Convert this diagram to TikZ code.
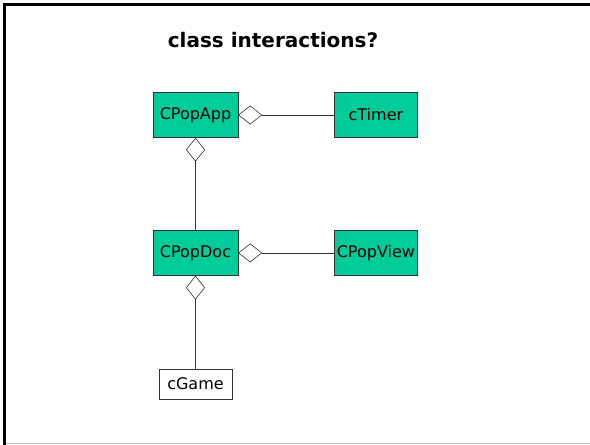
\documentclass[tikz,border=0pt]{standalone}
\usepackage{fontspec}
\setmainfont{DejaVu Sans}
\usetikzlibrary{arrows.meta, positioning}
\definecolor{popgreen}{RGB}{0, 204, 153}
\definecolor{framegray}{RGB}{192, 192, 192}

\begin{document}
\begin{tikzpicture}[
      x=1pt, y=-1pt,
      node distance=92.5pt and 96pt,
      cls/.style={rectangle, draw=black!80, fill=popgreen, minimum width=85pt, minimum height=45pt, inner sep=0pt, font=\fontsize{16}{18}\selectfont},
      plain/.style={cls, fill=white, minimum width=73pt, minimum height=30pt},
      agg/.style={-{Diamond[open, length=24pt, width=19pt]}, semithick, black!80}
    ]
      \useasboundingbox (0,0) rectangle (590,445);
      % slide frame
      \draw[line width=2.5pt] (4.5,445) -- (4.5,4.5) -- (590,4.5);
      \draw[framegray, line width=1.5pt] (5.5,443.5) -- (590,443.5);

      \node[font=\bfseries\fontsize{20}{23}\selectfont] (title) at (273,40) {class interactions?};

      \node[cls] (app) at (195.5,115) {CPopApp};
      \node[cls, right=96pt of app, minimum width=83pt] (timer) {cTimer};
      \node[cls, below=of app] (doc) {CPopDoc};
      \node[cls, right=96pt of doc, minimum width=83pt] (view) {CPopView};
      \node[plain, below=93pt of doc] (game) {cGame};

      \draw[agg] (timer) -- (app);
      \draw[agg] (doc) -- (app);
      \draw[agg] (view) -- (doc);
      \draw[agg] (game) -- (doc);
    \end{tikzpicture}
\end{document}
